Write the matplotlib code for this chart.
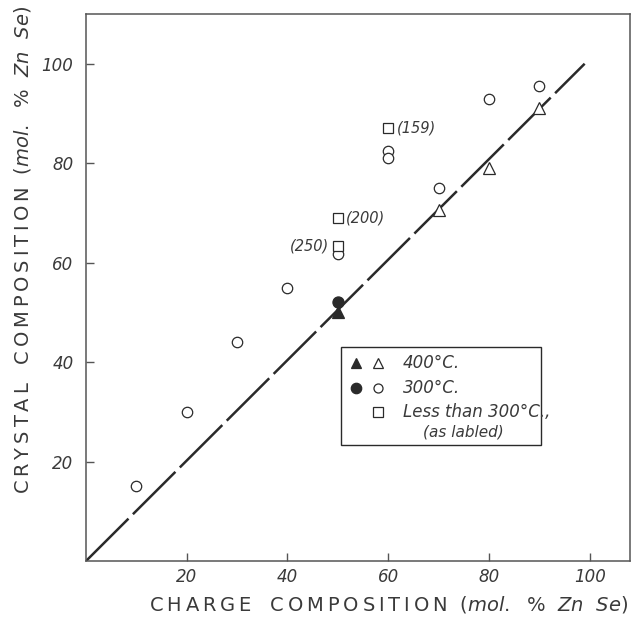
import matplotlib
matplotlib.use("Agg")
import matplotlib.pyplot as plt
from matplotlib.patches import Rectangle

# Data (charge vs crystal composition, mol % ZnSe)
tri_open_x = [70, 80, 90]
tri_open_y = [70.5, 79, 91]
tri_fill_x = [50]
tri_fill_y = [50]
circ_open_x = [10, 20, 30, 40, 50, 60, 60, 70, 80, 90]
circ_open_y = [15, 30, 44, 55, 61.8, 82.5, 81, 75, 93, 95.5]
circ_fill_x = [50]
circ_fill_y = [52]
sq_x = [60, 50, 50]
sq_y = [87, 69, 63.3]
sq_labels = ["(159)", "(200)", "(250)"]
line_x = [0, 99]
line_y = [0, 100]

INK = "#2a2a2a"
TXT = "#3a3a3a"
plt.rcParams['font.family'] = ['DejaVu Sans']


def spaced(word):
    # letter-spaced capitals, like the stencil lettering of the original
    return "\u2009".join(word)


fig = plt.figure(figsize=(6.35, 6.32), dpi=100)
ax = fig.add_axes([86 / 635, 71 / 632, 544 / 635, 547 / 632])

ax.plot(line_x, line_y, color=INK, lw=1.8, dashes=(24, 2.5), solid_capstyle='butt')

mk = dict(linestyle='none', color=INK, markeredgewidth=0.9, clip_on=False)
ax.plot(circ_open_x, circ_open_y, marker='o', ms=7.5, mfc='white', **mk)
ax.plot(tri_open_x, tri_open_y, marker='^', ms=8.5, mfc='white', **mk)
ax.plot(sq_x, sq_y, marker='s', ms=7, mfc='white', **mk)
ax.plot(tri_fill_x, tri_fill_y, marker='^', ms=8.5, mfc=INK, **mk)
ax.plot(circ_fill_x, circ_fill_y, marker='o', ms=8, mfc=INK, **mk)

# temperature labels next to the squares
offsets = [(6, 0, 'left'), (6, 0, 'left'), (-6, 0, 'right')]
for x, y, lab, (dx, dy, ha) in zip(sq_x, sq_y, sq_labels, offsets):
    ax.annotate(lab, (x, y), xytext=(dx, dy), textcoords='offset points',
                ha=ha, va='center', fontsize=10.5, style='italic', color=TXT)

ax.set_xlim(0, 108)
ax.set_ylim(0, 110)
ax.set_xticks([20, 40, 60, 80, 100])
ax.set_yticks([20, 40, 60, 80, 100])
ax.tick_params(direction='in', length=6, width=1, color='#555',
               labelsize=12, labelcolor=TXT)
ax.tick_params(axis='x', pad=5)
ax.tick_params(axis='y', pad=9)
for t in ax.get_xticklabels() + ax.get_yticklabels():
    t.set_style('italic')
for s in ax.spines.values():
    s.set_color('#555')
    s.set_linewidth(1.1)

# legend drawn by hand
ax.add_patch(Rectangle((0.469, 0.212), 0.367, 0.179, transform=ax.transAxes,
                       fill=False, ec=INK, lw=1.0))
lg = dict(transform=ax.transAxes, linestyle='none', color=INK,
          markeredgewidth=0.9, clip_on=False)
ax.plot([0.496], [0.362], marker='^', ms=7.5, mfc=INK, **lg)
ax.plot([0.537], [0.362], marker='^', ms=7.5, mfc='white', **lg)
ax.plot([0.496], [0.316], marker='o', ms=7.5, mfc=INK, **lg)
ax.plot([0.537], [0.316], marker='o', ms=6.5, mfc='white', **lg)
ax.plot([0.537], [0.272], marker='s', ms=6.5, mfc='white', **lg)
tk = dict(transform=ax.transAxes, va='center', ha='left', fontsize=12,
          style='italic', color=TXT)
ax.text(0.583, 0.362, "400°C.", **tk)
ax.text(0.583, 0.316, "300°C.", **tk)
ax.text(0.583, 0.272, "Less than 300°C.,", **tk)
ax.text(0.62, 0.236, "(as labled)", **{**tk, 'fontsize': 11})

unit = r"$\it{(mol.\ \ \%\ \ Zn\ \ Se)}$"
ylab = spaced("CRYSTAL") + "   " + spaced("COMPOSITION") + "  " + unit
xlab = spaced("CHARGE") + "   " + spaced("COMPOSITION") + "  " + unit
fig.text(0.035, 0.604, ylab, rotation=90, ha='center', va='center',
         fontsize=14, color=TXT)
fig.text(0.612, 0.043, xlab, ha='center', va='center', fontsize=14, color=TXT)

fig.savefig("out.png", dpi=100)
